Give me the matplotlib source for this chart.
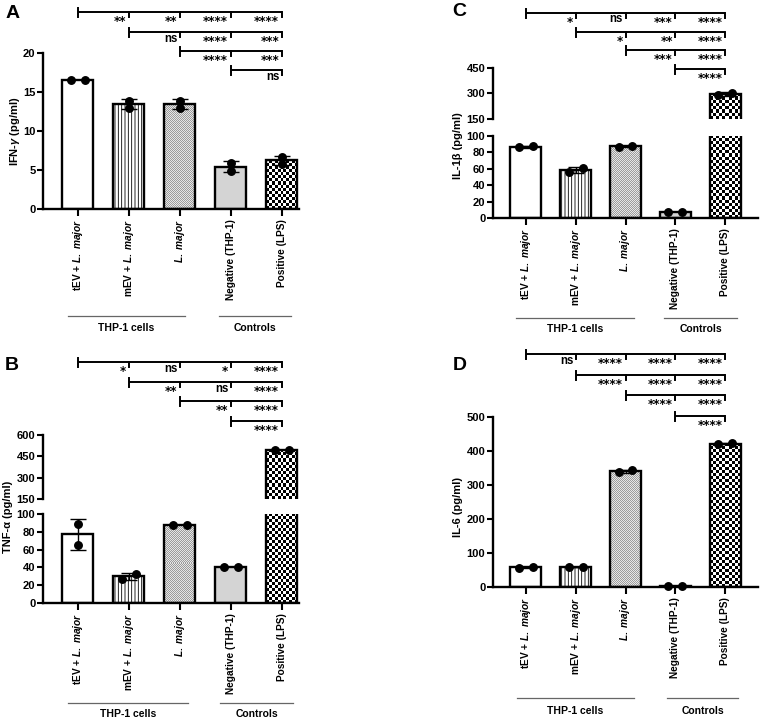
import numpy as np
import matplotlib
matplotlib.use('Agg')
import matplotlib.pyplot as plt
from matplotlib.colors import to_rgb

W, H = 761, 718
plt.rcParams['font.family'] = ['Liberation Sans', 'DejaVu Sans']
plt.rcParams['mathtext.fontset'] = 'custom'
plt.rcParams['mathtext.it'] = 'Liberation Sans:italic:bold'
plt.rcParams['mathtext.rm'] = 'Liberation Sans:bold'
plt.rcParams['mathtext.bf'] = 'Liberation Sans:bold'
plt.rcParams['hatch.linewidth'] = 0.6

# ---------------- data ----------------
categories = ['tEV + $\\mathit{L.\\ major}$', 'mEV + $\\mathit{L.\\ major}$',
              '$\\mathit{L.\\ major}$', 'Negative (THP-1)', 'Positive (LPS)']
groups = ['THP-1 cells', 'Controls']

ifng = [[16.6, 16.6], [13.0, 13.9], [13.0, 13.9], [4.9, 5.9], [5.8, 6.65]]
tnfa = [[65, 89], [27, 33], [88, 88], [40, 40], [495, 495]]
il1b = [[86, 88], [56, 61], [87, 88], [7, 7], [290, 305]]
il6 = [[57, 59], [59, 60], [338, 344], [2, 3], [420, 423]]

sig_ifng = [['**', '**', '****', '****'], ['ns', '****', '***'], ['****', '***'], ['ns']]
sig_tnfa = [['*', 'ns', '*', '****'], ['**', 'ns', '****'], ['**', '****'], ['****']]
sig_il1b = [['*', 'ns', '***', '****'], ['*', '**', '****'], ['***', '****'], ['****']]
sig_il6 = [['ns', '****', '****', '****'], ['****', '****', '****'], ['****', '****'], ['****']]

ylabels = ['IFN-$\\gamma$ (pg/ml)', 'TNF-α (pg/ml)', 'IL-1β (pg/ml)', 'IL-6 (pg/ml)']

# ---------------- layout ----------------
panels = [
    dict(vals=ifng, sigs=sig_ifng, ylabel=ylabels[0], letter='A',
         x0=43, x1=299, xlim=(-0.68, 4.34),
         segs=[((0, 20), [0, 5, 10, 15, 20], 53, 209)],
         rows=[12, 32, 51, 70], letter_xy=(6, 14), ylab_xy=(15, 131),
         gline_y=316, glines=[(68, 185), (219, 291)], gtext_y=328),
    dict(vals=tnfa, sigs=sig_tnfa, ylabel=ylabels[1], letter='B',
         x0=43, x1=299, xlim=(-0.68, 4.34),
         segs=[((0, 100), [0, 20, 40, 60, 80, 100], 514, 603),
               ((150, 600), [150, 300, 450, 600], 435, 499)],
         rows=[362, 382, 401, 421], letter_xy=(5, 366), ylab_xy=(8, 517),
         gline_y=703, glines=[(68, 188), (220, 293)], gtext_y=714),
    dict(vals=il1b, sigs=sig_il1b, ylabel=ylabels[2], letter='C',
         x0=493, x1=758, xlim=(-0.66, 4.66),
         segs=[((0, 100), [0, 20, 40, 60, 80, 100], 136, 218),
               ((150, 450), [150, 300, 450], 68, 119)],
         rows=[13, 32, 50, 69], letter_xy=(452, 12), ylab_xy=(458, 146),
         gline_y=318, glines=[(516, 634), (664, 737)], gtext_y=329),
    dict(vals=il6, sigs=sig_il6, ylabel=ylabels[3], letter='D',
         x0=493, x1=758, xlim=(-0.66, 4.66),
         segs=[((0, 500), [0, 100, 200, 300, 400, 500], 417, 587)],
         rows=[354, 375, 395, 416], letter_xy=(453, 366), ylab_xy=(458, 507),
         gline_y=698, glines=[(517, 634), (667, 738)], gtext_y=711),
]

styles = [dict(fc='white', hatch=None, tex=None),
          dict(fc='white', hatch='|||||', tex=None),
          dict(fc='none', hatch=None, tex=('#9c9c9c', '#e6e6e6', 1.0)),
          dict(fc='#d4d4d4', hatch=None, tex=None),
          dict(fc='none', hatch=None, tex=('black', 'white', 3.0))]

BW = 0.62
fig = plt.figure(figsize=(W / 100, H / 100), dpi=100)


def add_ax(x0, x1, ytop, ybot):
    return fig.add_axes([x0 / W, 1 - ybot / H, (x1 - x0) / W, (ybot - ytop) / H])


def checker(nr, nc, c1, c2):
    a = np.add.outer(np.arange(nr), np.arange(nc)) % 2
    c1 = np.array(to_rgb(c1)); c2 = np.array(to_rgb(c2))
    return np.where(a[..., None] == 0, c1, c2)


overlay_items = []
for p in panels:
    vals = np.array(p['vals'], dtype=float)
    means = vals.mean(axis=1)
    sds = vals.std(axis=1, ddof=1)
    xs = np.arange(len(categories))
    axes = []
    for si, ((ylo, yhi), ticks, ytop, ybot) in enumerate(p['segs']):
        ax = add_ax(p['x0'], p['x1'], ytop, ybot)
        axes.append(ax)
        ppu = (ybot - ytop) / (yhi - ylo)
        xppu = (p['x1'] - p['x0']) / (p['xlim'][1] - p['xlim'][0])
        for i, (x, m) in enumerate(zip(xs, means)):
            st = styles[i]
            lo, hi = max(0, ylo), min(m, yhi)
            if st['tex'] is not None and hi > lo:
                c1, c2, cell = st['tex']
                nc = max(1, int(round(BW * xppu / cell)))
                nr = max(1, int(round((hi - lo) * ppu / cell)))
                ax.imshow(checker(nr, nc, c1, c2), extent=(x - BW / 2, x + BW / 2, lo, hi),
                          aspect='auto', interpolation='nearest', origin='lower', zorder=1)
            ax.bar(x, m, BW, facecolor=st['fc'], edgecolor='black', linewidth=1.7,
                   hatch=st['hatch'], zorder=2)
            if sds[i] > 0:
                ax.errorbar([x], [m], yerr=[sds[i]], fmt='none', ecolor='black',
                            elinewidth=1.0, capsize=5.5, capthick=1.0, zorder=3)
            v1, v2 = vals[i]
            if abs(v1 - v2) * ppu < 6:
                pxs = [x - 0.14, x + 0.14]
            else:
                pxs = [x, x]
            for px, v in zip(pxs, [v1, v2]):
                if ylo <= v <= yhi:
                    ax.plot([px], [v], 'o', color='black', markersize=5.4,
                            clip_on=False, zorder=4)
        ax.set_xlim(*p['xlim'])
        ax.set_ylim(ylo, yhi)
        ax.set_yticks(ticks)
        ax.set_yticklabels([str(t) for t in ticks], fontweight='bold', fontsize=8)
        ax.tick_params(axis='y', length=4, width=1.5, pad=1.5)
        ax.patch.set_visible(False)
        for s in ['top', 'right']:
            ax.spines[s].set_visible(False)
        ax.spines['left'].set_linewidth(1.7)
        if si == 0:
            ax.spines['bottom'].set_linewidth(1.7)
            ax.set_xticks(xs)
            ax.set_xticklabels(categories, rotation=90, fontweight='bold', fontsize=7.3)
            ax.tick_params(axis='x', length=5, width=1.5, pad=2)
        else:
            ax.spines['bottom'].set_visible(False)
            ax.set_xticks([])
    fig.canvas.draw()
    xpix = [axes[0].transData.transform((x, 0))[0] for x in xs]
    overlay_items.append((p, xpix))

ov = fig.add_axes([0, 0, 1, 1], zorder=-1)
ov.set_xlim(0, W)
ov.set_ylim(H, 0)
ov.axis('off')

for p, xpix in overlay_items:
    n = len(xpix)
    for r, (y, labs) in enumerate(zip(p['rows'], p['sigs'])):
        xa, xb = xpix[r], xpix[n - 1]
        ov.plot([xa, xb], [y, y], color='black', lw=1.4, solid_capstyle='butt')
        ov.plot([xa, xa], [y - 4, y + 5], color='black', lw=1.4)
        for k, lab in enumerate(labs):
            xj = xpix[r + 1 + k]
            ov.plot([xj, xj], [y, y + 5], color='black', lw=1.4)
            if lab == 'ns':
                ov.text(xj - 2.5, y + 6.5, lab, ha='right', va='center', fontsize=8.3,
                        fontweight='bold', family='Liberation Sans')
            else:
                ov.text(xj - 2.5, y + 3.0, lab, ha='right', va='top', fontsize=8.5,
                        fontweight='bold', family='DejaVu Sans')
    ov.text(p['letter_xy'][0], p['letter_xy'][1], p['letter'], ha='left', va='center',
            fontsize=14, fontweight='bold')
    ov.text(p['ylab_xy'][0], p['ylab_xy'][1], p['ylabel'], rotation=90, ha='center',
            va='center', fontsize=8, fontweight='bold')
    for (ga, gb), g in zip(p['glines'], groups):
        ov.plot([ga, gb], [p['gline_y'], p['gline_y']], color='#666666', lw=0.9)
        ov.text((ga + gb) / 2, p['gtext_y'], g, ha='center', va='center', fontsize=7.5,
                fontweight='bold')

fig.savefig('out.png', dpi=100)
